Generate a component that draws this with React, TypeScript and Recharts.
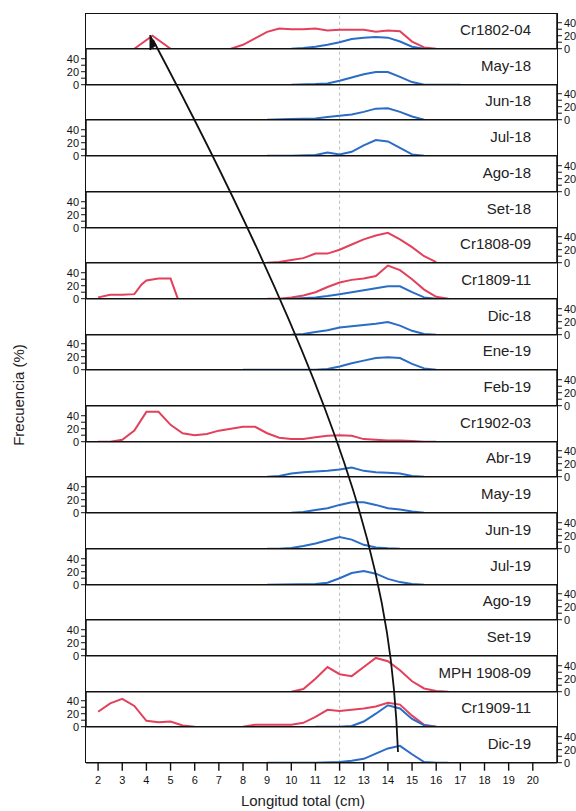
import React from "react";
import { LineChart, Line, XAxis, YAxis, ReferenceLine } from "recharts";

type P = [number, number | null];

const panelNames = ["Cr1802-04","May-18","Jun-18","Jul-18","Ago-18","Set-18","Cr1808-09","Cr1809-11","Dic-18","Ene-19","Feb-19","Cr1902-03","Abr-19","May-19","Jun-19","Jul-19","Ago-19","Set-19","MPH 1908-09","Cr1909-11","Dic-19"];
const xTicks = [2,3,4,5,6,7,8,9,10,11,12,13,14,15,16,17,18,19,20];
const yTicks = [0,10,20,30,40];

const red: Record<string, P[]> = {
  "Cr1802-04": [[3.5,0],[4.25,20],[5,0],[5.5,null],[7.5,0],[8,6],[8.5,16],[9,26],[9.5,31],[10,30],[10.5,30],[11,31],[11.5,28],[12,29],[12.5,29],[13,29],[13.5,26],[14,28],[14.5,27],[15,11],[15.5,2],[16,0]],
  "Cr1808-09": [[9,0],[9.5,1],[10,4],[10.5,7],[11,14],[11.5,14],[12,20],[12.5,28],[13,36],[13.5,42],[14,46],[14.5,36],[15,24],[15.5,10],[16,1]],
  "Cr1809-11": [[2,2],[2.5,6],[3,6],[3.5,7],[3.8,22],[4,28],[4.5,31],[5,31],[5.3,0],[5.5,null],[9,0],[9.5,0],[10,2],[10.5,5],[11,10],[11.5,18],[12,25],[12.5,29],[13,31],[13.5,35],[14,51],[14.5,44],[15,30],[15.5,14],[16,3],[16.5,0]],
  "Cr1902-03": [[2,0],[2.5,0],[3,3],[3.5,17],[4,46],[4.5,46],[5,26],[5.5,13],[6,10],[6.5,12],[7,17],[7.5,20],[8,23],[8.5,23],[9,13],[9.5,6],[10,4],[10.5,4],[11,7],[11.5,9],[12,10],[12.5,9],[13,4],[13.5,3],[14,2],[14.5,2],[15,1],[15.5,0],[16,0]],
  "MPH 1908-09": [[10,0],[10.5,4],[11,20],[11.5,38],[12,27],[12.5,24],[13,38],[13.5,52],[14,47],[14.5,33],[15,16],[15.5,5],[16,1],[16.5,0]],
  "Cr1909-11": [[2,23],[2.5,36],[3,43],[3.5,32],[4,9],[4.5,7],[5,8],[5.5,2],[6,0],[6.5,null],[8,0],[8.5,3],[9,3],[9.5,3],[10,3],[10.5,6],[11,15],[11.5,26],[12,24],[12.5,26],[13,28],[13.5,31],[14,37],[14.5,34],[15,17],[15.5,3],[16,0]],
};

const blue: Record<string, P[]> = {
  "Cr1802-04": [[10,0],[10.5,1],[11,3],[11.5,6],[12,10],[12.5,15],[13,17],[13.5,18],[14,17],[14.5,11],[15,3],[15.5,0]],
  "May-18": [[10,0],[11,1],[11.5,2],[12,6],[12.5,11],[13,16],[13.5,19.5],[14,19.5],[14.5,12],[15,4],[15.5,0],[17,0]],
  "Jun-18": [[9,0],[10,1],[11,2],[11.5,4],[12,6],[12.5,8],[13,12],[13.5,17],[14,17.5],[14.5,12],[15,5],[15.5,0]],
  "Jul-18": [[9,0],[10,0],[11,1],[11.5,5],[12,2],[12.5,6],[13,16],[13.5,24],[14,22],[14.5,12],[15,2],[15.5,0]],
  "Cr1809-11": [[10,0],[11,2],[11.5,4],[12,7],[12.5,10],[13,13],[13.5,16],[14,19],[14.5,19],[15,10],[15.5,2],[16,0]],
  "Dic-18": [[10,0],[10.5,1],[11,4],[11.5,7],[12,11],[12.5,13],[13,15],[13.5,17],[14,19.5],[14.5,14],[15,6],[15.5,1],[16,0]],
  "Ene-19": [[8,0],[11,0],[11.5,1],[12,5],[12.5,10],[13,14],[13.5,18],[14,19],[14.5,18],[15,9],[15.5,2],[16,0]],
  "Abr-19": [[9,0],[9.5,1],[10,5],[10.5,7],[11,8],[11.5,9],[12,11],[12.5,14],[13,9],[13.5,7],[14,6],[14.5,5],[15,1],[15.5,0]],
  "May-19": [[10,0],[10.5,1],[11,4],[11.5,7],[12,12],[12.5,16],[13,16],[13.5,12],[14,7],[14.5,5],[15,2],[15.5,0]],
  "Jun-19": [[9,0],[9.5,0],[10,1],[10.5,4],[11,8],[11.5,13],[12,18],[12.5,14],[13,6],[13.5,2],[14,0.5],[14.5,0]],
  "Jul-19": [[9,0],[11,1],[11.5,3],[12,10],[12.5,18],[13,21],[13.5,17],[14,9],[14.5,4],[15,1],[15.5,0]],
  "Cr1909-11": [[11,0],[12,0],[12.5,1],[13,8],[13.5,20],[14,33],[14.5,28],[15,12],[15.5,2],[16,0]],
  "Dic-19": [[9,0],[11,0],[12,1],[12.5,3],[13,6],[13.5,14],[14,22],[14.5,26],[15,13],[15.5,1],[16,0],[16.5,0]],
};

const TOP = 13;
const PH = 35.7;
const PAD = 10;
const LEFT = 86;
const RIGHT = 557;
const W = 576;
const RED = "#e3405c";
const BLUE = "#2a6cc6";
const font = "Arial, 'Liberation Sans', sans-serif";

const toObj = (p: P[]) => p.map(([x, y]) => ({ x, y }));

function Panel({ name, i }: { name: string; i: number }) {
  const leftAxis = i % 2 === 1;
  const last = i === panelNames.length - 1;
  const h = PH + PAD + (last ? 30 : PAD);
  return (
    <div style={{ position: "absolute", left: 0, top: TOP + i * PH - PAD, width: W, height: h }}>
      <LineChart
        width={W}
        height={h}
        margin={{ top: PAD, bottom: last ? 0 : PAD, left: leftAxis ? 0 : LEFT, right: leftAxis ? W - RIGHT : 0 }}
      >
        <XAxis
          type="number"
          dataKey="x"
          domain={[1.5, 21]}
          ticks={xTicks}
          allowDataOverflow
          hide={!last}
          axisLine={false}
          tick={{ fill: "#111", fontSize: 11, fontFamily: font, dy: 4 }}
          tickLine={{ stroke: "#111", strokeWidth: 1.4 }}
          tickSize={8}
          height={last ? 30 : 0}
        />
        <YAxis
          yAxisId="a"
          orientation={leftAxis ? "left" : "right"}
          width={leftAxis ? LEFT : W - RIGHT}
          domain={[0, 55]}
          ticks={yTicks}
          allowDataOverflow
          interval={0}
          axisLine={{ stroke: "#111", strokeWidth: 1.4 }}
          tickLine={{ stroke: "#111" }}
          tickSize={5}
          tick={{ fill: "#111", fontSize: 11, fontFamily: font }}
          tickFormatter={(v: number) => (v % 20 === 0 ? String(v) : "")}
        />
        <ReferenceLine yAxisId="a" x={12} stroke="#bbb" strokeDasharray="3 3" />
        {red[name] && (
          <Line yAxisId="a" data={toObj(red[name])} dataKey="y" stroke={RED} strokeWidth={2} dot={false} isAnimationActive={false} connectNulls={false} />
        )}
        {blue[name] && (
          <Line yAxisId="a" data={toObj(blue[name])} dataKey="y" stroke={BLUE} strokeWidth={2} dot={false} isAnimationActive={false} connectNulls={false} />
        )}
        <ReferenceLine yAxisId="a" y={0} stroke="#111" strokeWidth={1.6} />
      </LineChart>
      <div style={{ position: "absolute", right: W - 531, top: PAD + 8, fontFamily: font, fontSize: 15, color: "#222", whiteSpace: "nowrap" }}>
        {name}
      </div>
    </div>
  );
}

export default function App() {
  const bottom = TOP + panelNames.length * PH;
  return (
    <div style={{ position: "absolute", left: 0, top: 0, width: W, height: 811, background: "#fff" }}>
      <div style={{ position: "absolute", left: LEFT - 0.7, top: TOP, width: RIGHT - LEFT + 1.4, height: bottom - TOP, borderTop: "1.5px solid #111", borderLeft: "1.5px solid #111", borderRight: "1.5px solid #111", boxSizing: "border-box" }} />
      {panelNames.map((n, i) => (
        <Panel key={n} name={n} i={i} />
      ))}
      <div style={{ position: "absolute", left: 0, width: W - 30, top: 792, textAlign: "center", paddingLeft: 60, boxSizing: "border-box", fontFamily: font, fontSize: 15, color: "#222" }}>
        Longitud total (cm)
      </div>
      <div style={{ position: "absolute", left: 18, top: 395, transform: "translate(-50%,-50%) rotate(-90deg)", fontFamily: font, fontSize: 15, color: "#222", whiteSpace: "nowrap" }}>
        Frecuencia (%)
      </div>
      <svg width={W} height={811} style={{ position: "absolute", left: 0, top: 0, pointerEvents: "none" }}>
        <path d="M398,752 C392,600 365,440 153,40" stroke="#111" strokeWidth={1.8} fill="none" />
        <path d="M150,35 L150,50 L156,45 Z" fill="#111" stroke="#111" />
      </svg>
    </div>
  );
}
